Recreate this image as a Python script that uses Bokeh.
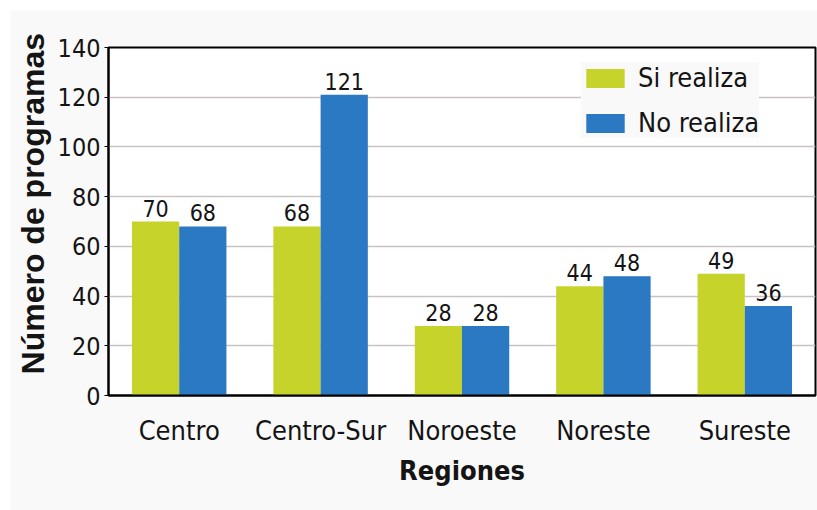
from bokeh.plotting import figure
from bokeh.models import ColumnDataSource, FactorRange, Legend, LegendItem, Range1d
from bokeh.transform import dodge
from bokeh.core.properties import value
from bokeh.embed import file_html
from bokeh.resources import INLINE

regiones = ["Centro", "Centro-Sur", "Noroeste", "Noreste", "Sureste"]
si_realiza = [70, 68, 28, 44, 49]
no_realiza = [68, 121, 28, 48, 36]
series_names = ["Si realiza", "No realiza"]
y_ticks = [0, 20, 40, 60, 80, 100, 120, 140]
y_title = "Número de programas"
x_title = "Regiones"

GREEN = "#c6d32b"
BLUE = "#2b78c3"
NARROW = "DejaVu Sans Condensed, Liberation Sans"

src = ColumnDataSource(dict(
    reg=regiones, si=si_realiza, no=no_realiza,
    si_lbl=[str(v) for v in si_realiza], no_lbl=[str(v) for v in no_realiza],
))

p = figure(
    x_range=FactorRange(*regiones, range_padding=0.0),
    y_range=Range1d(0, 140),
    width=807, height=500,
    output_backend="svg", toolbar_location=None,
    min_border_left=98, min_border_right=2, min_border_top=37, min_border_bottom=115,
    background_fill_color="white", border_fill_color="#f9f9f9",
)
p.margin = (10, 0, 0, 10)

b1 = p.vbar(x=dodge("reg", -0.167, range=p.x_range), top="si", width=0.334, source=src,
            fill_color=GREEN, line_color=None)
b2 = p.vbar(x=dodge("reg", 0.167, range=p.x_range), top="no", width=0.334, source=src,
            fill_color=BLUE, line_color=None)

for col, lbl, off in (("si", "si_lbl", -0.167), ("no", "no_lbl", 0.167)):
    p.text(x=dodge("reg", off, range=p.x_range), y=col, text=lbl, source=src,
           text_align="center", text_baseline="bottom", y_offset=-5,
           text_font=value(NARROW), text_font_size="23px", text_color="#141414")

p.outline_line_color = "black"
p.outline_line_width = 2
p.xgrid.grid_line_color = None
p.ygrid.grid_line_color = "#c9c2c2"
p.ygrid.grid_line_width = 1.5
p.yaxis.ticker = y_ticks

p.yaxis.axis_line_color = "black"
p.yaxis.axis_line_width = 2
p.yaxis.major_tick_in = 0
p.yaxis.major_tick_out = 4
p.yaxis.major_tick_line_color = "black"
p.yaxis.minor_tick_line_color = None
p.yaxis.major_label_text_font = NARROW
p.yaxis.major_label_text_font_size = "25px"
p.yaxis.major_label_text_color = "#141414"
p.yaxis.major_label_standoff = 4
# leading no-break spaces nudge the rotated title upward, as in the reference
p.yaxis.axis_label = "\u00a0\u00a0\u00a0\u00a0" + y_title
p.yaxis.axis_label_text_font = "Liberation Sans"
p.yaxis.axis_label_text_font_style = "bold"
p.yaxis.axis_label_text_font_size = "32px"
p.yaxis.axis_label_text_color = "#141414"
p.yaxis.axis_label_standoff = 4

p.xaxis.axis_line_color = "black"
p.xaxis.axis_line_width = 2
p.xaxis.major_tick_line_color = None
p.xaxis.minor_tick_line_color = None
p.xaxis.major_label_text_font = NARROW
p.xaxis.major_label_text_font_size = "27px"
p.xaxis.major_label_text_color = "#141414"
p.xaxis.major_label_standoff = 13
p.xaxis.axis_label = x_title
p.xaxis.axis_label_text_font = NARROW
p.xaxis.axis_label_text_font_style = "bold"
p.xaxis.axis_label_text_font_size = "27px"
p.xaxis.axis_label_text_color = "#141414"
p.xaxis.axis_label_standoff = 6

legend = Legend(items=[LegendItem(label=series_names[0], renderers=[b1]),
                       LegendItem(label=series_names[1], renderers=[b2])],
                location=(473, 257))
legend.background_fill_color = "#f9f9f9"
legend.background_fill_alpha = 1.0
legend.border_line_color = None
legend.label_text_font = NARROW
legend.label_text_font_size = "27px"
legend.label_text_color = "#141414"
legend.glyph_width = 48
legend.glyph_height = 24
legend.label_height = 24
legend.label_standoff = 9
legend.spacing = 14
legend.padding = 12
legend.margin = 0
p.add_layout(legend, "center")

open("out.html", "w").write(file_html(p, INLINE))
